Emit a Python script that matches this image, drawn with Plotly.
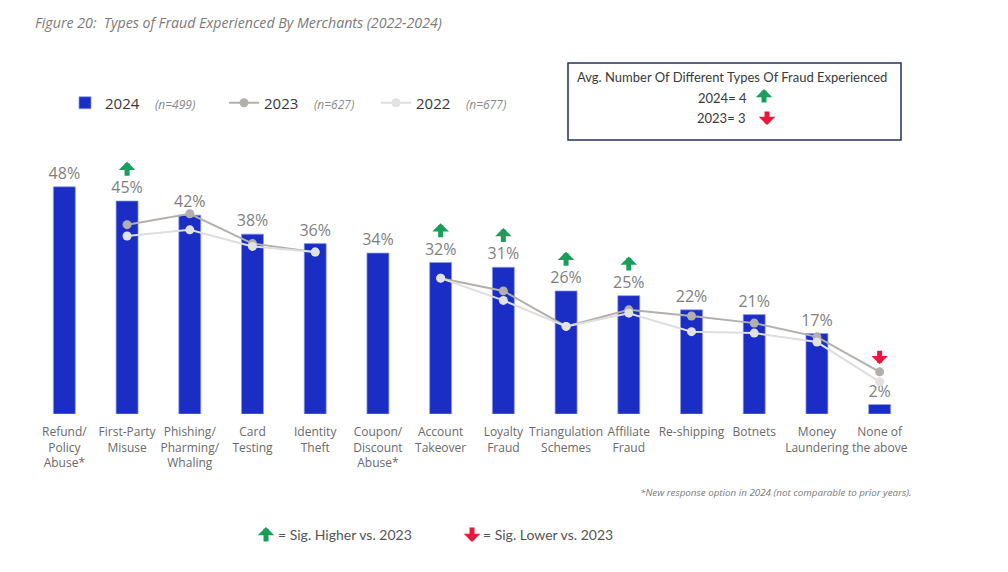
import plotly.graph_objects as go

categories = ["Refund/<br>Policy<br>Abuse*", "First-Party<br>Misuse", "Phishing/<br>Pharming/<br>Whaling",
              "Card<br>Testing", "Identity<br>Theft", "Coupon/<br>Discount<br>Abuse*", "Account<br>Takeover",
              "Loyalty<br>Fraud", "Triangulation<br>Schemes", "Affiliate<br>Fraud", "Re-shipping",
              "Botnets", "Money<br>Laundering", "None of<br>the above"]
v2024 = [48, 45, 42, 38, 36, 34, 32, 31, 26, 25, 22, 21, 17, 2]
v2023 = [None, 40, 42.3, 36, 34.2, None, 28.7, 26, 18.5, 22, 20.7, 19.2, 16.3, 8.9]
v2022 = [None, 37.6, 38.9, 35.4, 34.2, None, 28.7, 24, 18.5, 21.3, 17.4, 17.1, 15.2, 6.8]
sig_higher = ["First-Party<br>Misuse", "Account<br>Takeover", "Loyalty<br>Fraud",
              "Triangulation<br>Schemes", "Affiliate<br>Fraud"]
sig_lower = ["None of<br>the above"]

BLUE = "#1a2ec6"
GREEN = "#1a9e5c"
RED = "#e8183c"
GRAY_TXT = "#7f7f7f"
AW, AS = 5, 0.55

NSTYLE = "font-size:12px;color:#8a8a8a"
fig = go.Figure()
fig.add_trace(go.Bar(
    x=categories, y=v2024, name=f"2024    <i><span style='{NSTYLE}'>(n=499)</span></i>",
    marker=dict(color=BLUE, line=dict(color="rgba(140,155,235,0.9)", width=0.8)),
    width=0.35, text=[f"{v}%" for v in v2024], textposition="outside", constraintext="none",
    textfont=dict(size=16, color=GRAY_TXT, family="Open Sans"), cliponaxis=False,
    legend="legend",
))
fig.add_trace(go.Scatter(
    x=categories, y=v2023, mode="lines+markers", connectgaps=False,
    name=f"2023    <i><span style='{NSTYLE}'>(n=627)</span></i>",
    line=dict(color="#b3afab", width=2), marker=dict(color="#b3afab", size=9),
    legend="legend2",
))
fig.add_trace(go.Scatter(
    x=categories, y=v2022, mode="lines+markers", connectgaps=False,
    name=f"2022    <i><span style='{NSTYLE}'>(n=677)</span></i>",
    line=dict(color="#dedede", width=2), marker=dict(color="#e2e2e2", size=9),
    legend="legend2",
))

annotations = []
for c in sig_higher:
    v = v2024[categories.index(c)]
    annotations.append(dict(x=c, y=v + 8.3, xref="x", yref="y", ax=0, ay=v + 5, ayref="y",
                            showarrow=True, arrowhead=1, arrowwidth=AW, arrowsize=AS,
                            arrowcolor=GREEN, text=""))
for c in sig_lower:
    v = v2023[categories.index(c)]
    annotations.append(dict(x=c, y=v + 1.6, xref="x", yref="y", ax=0, ay=v + 4.8, ayref="y",
                            showarrow=True, arrowhead=1, arrowwidth=AW, arrowsize=AS,
                            arrowcolor=RED, text=""))

# page offset (body margin) and plot area geometry (pixels -> paper)
OFF = 8
W, H = 1008, 572
L, T = 33 - OFF, 130 - OFF
R = W - (911 - OFF)
B = H - (414 - OFF)
pw, ph = W - L - R, H - T - B
def px(x):
    return (x - OFF - L) / pw
def py(y):
    return (H - B - (y - OFF)) / ph

# title
annotations.append(dict(x=px(33), y=py(22), xref="paper", yref="paper", xanchor="left", yanchor="middle",
                        text="<i>Figure 20:  Types of Fraud Experienced By Merchants (2022-2024)</i>",
                        showarrow=False, font=dict(size=14.2, color="#7a7a7a", family="Open Sans")))
# box texts
annotations.append(dict(x=px(732), y=py(77), xref="paper", yref="paper", xanchor="center", yanchor="middle",
                        text="Avg. Number Of Different Types Of Fraud Experienced", showarrow=False,
                        font=dict(size=13, color="#3a3a3a", family="Lato")))
annotations.append(dict(x=px(722), y=py(98), xref="paper", yref="paper", xanchor="center", yanchor="middle",
                        text="2024= 4", showarrow=False, font=dict(size=13, color="#3a3a3a", family="Lato")))
annotations.append(dict(x=px(721), y=py(118), xref="paper", yref="paper", xanchor="center", yanchor="middle",
                        text="2023= 3", showarrow=False, font=dict(size=13, color="#3a3a3a", family="Lato")))
annotations.append(dict(x=px(764), y=py(89), xref="paper", yref="paper", ax=0, ay=15, text="",
                        showarrow=True, arrowhead=1, arrowwidth=AW, arrowsize=AS, arrowcolor=GREEN))
annotations.append(dict(x=px(767), y=py(125), xref="paper", yref="paper", ax=0, ay=-15, text="",
                        showarrow=True, arrowhead=1, arrowwidth=AW, arrowsize=AS, arrowcolor=RED))
# footnote
annotations.append(dict(x=px(913), y=py(492), xref="paper", yref="paper", xanchor="right", yanchor="middle",
                        text="<i>*New response option in 2024 (not comparable to prior years).</i>", showarrow=False,
                        font=dict(size=9.8, color="#7a7a7a", family="Open Sans")))
# bottom significance legend
annotations.append(dict(x=px(266), y=py(527), xref="paper", yref="paper", ax=0, ay=16, text="",
                        showarrow=True, arrowhead=1, arrowwidth=AW, arrowsize=AS, arrowcolor=GREEN))
annotations.append(dict(x=px(276), y=py(534), xref="paper", yref="paper", xanchor="left", yanchor="middle",
                        text="= Sig. Higher vs. 2023", showarrow=False,
                        font=dict(size=14, color="#555555", family="Lato")))
annotations.append(dict(x=px(472), y=py(542), xref="paper", yref="paper", ax=0, ay=-16, text="",
                        showarrow=True, arrowhead=1, arrowwidth=AW, arrowsize=AS, arrowcolor=RED))
annotations.append(dict(x=px(481), y=py(534), xref="paper", yref="paper", xanchor="left", yanchor="middle",
                        text="= Sig. Lower vs. 2023", showarrow=False,
                        font=dict(size=14, color="#555555", family="Lato")))

shapes = [dict(type="rect", xref="paper", yref="paper", x0=px(568), x1=px(901), y0=py(140), y1=py(63),
               line=dict(color="#22305e", width=1.5), fillcolor="rgba(0,0,0,0)")]

leg_font = dict(size=15, color="#383838", family="Open Sans")
fig.update_layout(
    width=W, height=H, margin=dict(l=L, r=R, t=T, b=B, autoexpand=False),
    paper_bgcolor="white", plot_bgcolor="white",
    showlegend=True,
    legend=dict(orientation="h", x=px(65), y=py(103), xanchor="left", yanchor="middle",
                entrywidth=107, entrywidthmode="pixels", font=leg_font, bgcolor="rgba(0,0,0,0)"),
    legend2=dict(orientation="h", x=px(224), y=py(103), xanchor="left", yanchor="middle",
                 entrywidth=107, entrywidthmode="pixels", font=leg_font, bgcolor="rgba(0,0,0,0)"),
    xaxis=dict(showgrid=False, showline=False, ticks="", zeroline=False, tickangle=0, automargin=False,
               range=[-0.5, len(categories) - 0.5], ticklabelstandoff=9,
               tickfont=dict(size=12, color="#6a6a6a", family="Open Sans")),
    yaxis=dict(range=[0, 60], visible=False, showgrid=False, zeroline=False, automargin=False),
    annotations=annotations, shapes=shapes, bargap=0.65,
)

fig.write_html("out.html")
